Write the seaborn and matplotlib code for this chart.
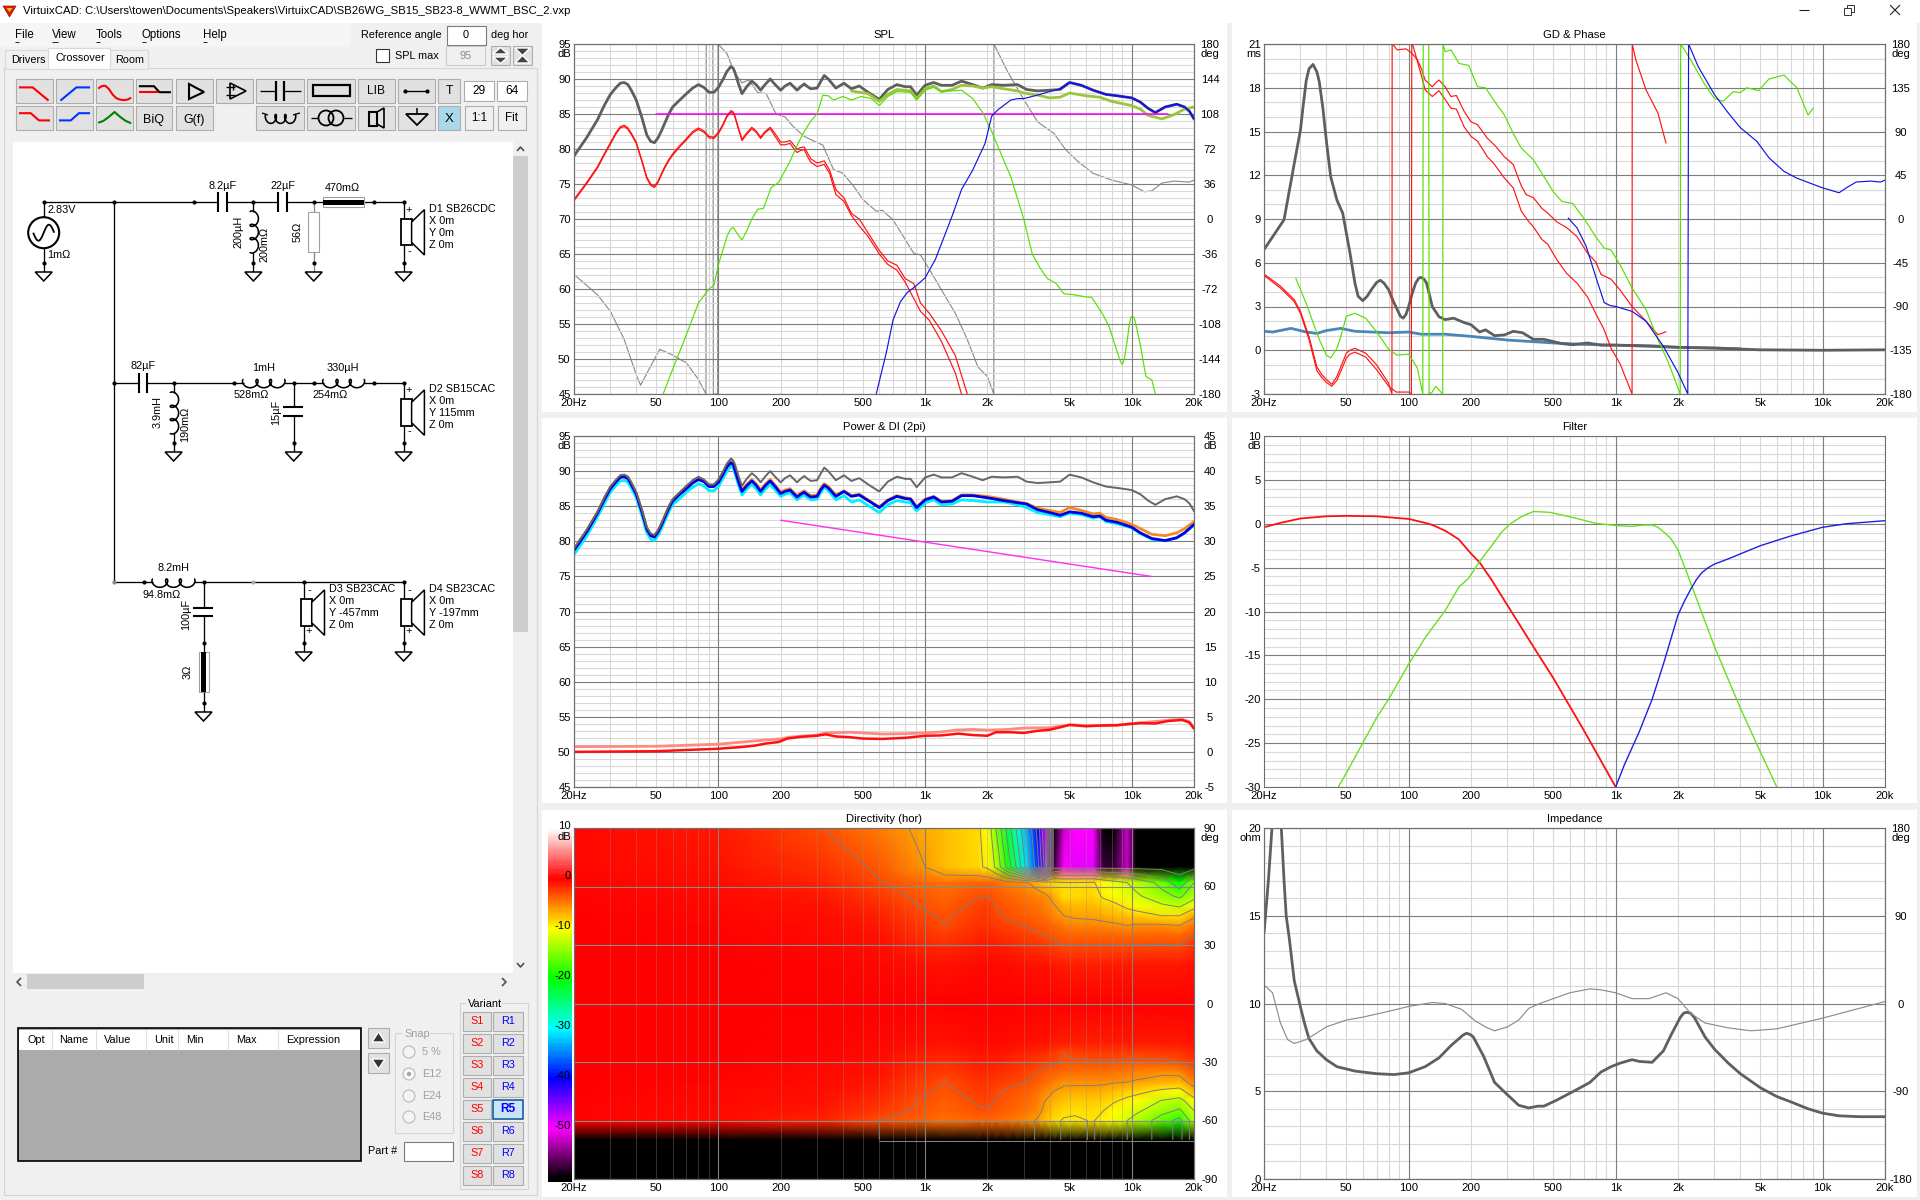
import numpy as np
import matplotlib
matplotlib.use('Agg')
import matplotlib.pyplot as plt
import seaborn as sns
from matplotlib.colors import LinearSegmentedColormap
from matplotlib.patches import Rectangle, Polygon, Circle
from matplotlib.ticker import MultipleLocator, NullFormatter

# ---------- chart values (frequency Hz, value) ----------
TOTAL = [(20,79),(23,81.6),(26,84.2),(28,86.2),(30,87.8),(32,88.8),(33.5,89.4),(35,89.5),(36.5,89.2),(38,88.3),(40,87),(42.5,84.6),(45,82),(47,81.1),(49,80.9),(51,81.6),(53,82.6),(55,83.7),(57.5,85),(60,86),(65,87),(70,87.9),(75,88.7),(80,89.2),(85,88.8),(90,88.1),(95,88.1),(100,88.8),(105,89.9),(110,91.1),(115,91.8),(118,91.5),(120,91),(125,89.3),(130,87.9),(137,88.9),(145,89.7),(152,89.2),(160,88.4),(168,89.2),(178,90),(188,89.2),(200,88.4),(210,89),(222,89.4),(231,88.9),(240,88.4),(250,88.9),(260,89.3),(270,88.9),(280,88.6),(300,88.7),(312,89.6),(325,90.5),(340,90),(370,88.7),(405,89.4),(440,88.6),(480,89),(530,88.1),(600,87.1),(660,88.5),(730,89.2),(800,88.9),(850,88.9),(910,87.7),(1000,89.1),(1100,89.5),(1200,89.1),(1350,89.1),(1500,89.7),(1700,89.2),(1900,88.7),(2100,89.2),(2400,89.1),(2800,89.2),(3100,88.5),(3500,88.3),(4000,88.4),(4500,88.5),(5000,89.5),(5700,89.1),(6500,88.4),(7500,87.8),(8500,87.6),(10000,87.3),(11000,86.7),(12000,85.8),(13000,85.2),(14500,86),(16500,86.4),(18000,86),(19000,85.4),(20000,84.3)]
SUM_THICK = [(440,88.3),(530,87.9),(600,86.8),(660,87.8),(730,88.5),(850,88.3),(910,87.2),(1000,88.6),(1100,89),(1200,88.2),(1350,88.5),(1500,89.1),(1700,89),(1900,88.7),(2100,88.9),(2400,88.6),(2800,88.3),(3000,88),(3500,87.7),(4000,87.3),(4500,87.4),(5000,88),(6000,87.6),(7000,87.4),(8000,86.8),(10000,86.2),(11000,85.7),(12000,84.8),(14000,84.3),(16000,84.9),(18000,85.7),(20000,86)]
WOOFER_A = [(20,72.8),(23,75.2),(26,77.5),(28,79.3),(30,80.9),(32,82.4),(33.5,83.2),(35,83.4),(36.5,83),(38,82.2),(40,81),(42.5,78.5),(45,76),(47,75),(49,74.7),(51,75.4),(53,76.5),(55,77.5),(57.5,78.5),(60,79.3),(65,80.5),(70,81.5),(75,82.5),(80,83),(85,82.6),(90,81.8),(95,81.7),(100,82.4),(105,83.5),(110,84.8),(115,85.5),(118,85.3),(120,84.8),(125,83),(130,81.4),(137,82.3),(145,83.1),(152,82.6),(160,81.7),(168,82.5),(178,83.1),(188,82.2),(200,81),(210,81),(222,81.2),(231,80.6),(240,80),(250,80.2),(260,80.3),(270,79.4),(280,78.6),(300,78),(325,78.3),(345,77),(370,74.2),(405,73),(440,70.8),(480,70),(530,68),(600,65.5),(660,64),(730,63.4),(800,61.5),(880,60.8),(950,58),(1050,56.5),(1200,54),(1400,50.5),(1600,45)]
WOOFER_B = [(20,72.6),(23,75),(26,77.3),(28,79.1),(30,80.7),(32,82.2),(33.5,83),(35,83.2),(36.5,82.8),(38,82),(40,80.8),(42.5,78.3),(45,75.8),(47,74.8),(49,74.5),(51,75.2),(53,76.3),(55,77.3),(57.5,78.3),(60,79.1),(65,80.3),(70,81.3),(75,82.3),(80,82.8),(85,82.4),(90,81.6),(95,81.5),(100,82.2),(105,83.3),(110,84.6),(115,85.3),(118,85.1),(120,84.6),(125,82.8),(130,81.2),(137,82.1),(145,82.9),(152,82.4),(160,81.5),(168,82.3),(178,82.9),(188,81.8),(200,80.6),(210,80.6),(222,80.8),(231,80.1),(240,79.5),(250,79.8),(260,79.9),(270,78.9),(280,78.1),(300,77.5),(325,77.8),(345,76.5),(370,73.5),(405,72.5),(440,70.5),(480,69),(530,67.5),(600,65),(660,63.5),(730,62.7),(800,61),(950,56.8),(1050,55.5),(1200,52.5),(1400,48),(1500,45)]
MID = [(54,45),(60,48.5),(70,53.5),(80,58),(90,60),(95,60.5),(100,63.5),(110,67.5),(114,68.5),(118,68.8),(124,67.8),(130,67),(137,68.3),(145,70),(155,71.4),(165,71.5),(180,74.5),(195,75.2),(220,78),(240,80.5),(260,82.5),(280,84),(300,85),(320,87.7),(340,87.6),(360,87),(400,87.5),(440,87),(490,87.5),(550,87.2),(600,86.2),(660,87.5),(730,88.2),(850,88.1),(910,87),(1000,88.4),(1100,88.8),(1200,88.2),(1350,88.3),(1500,88.4),(1700,87.2),(1900,85.2),(2100,82.5),(2300,79.7),(2600,76),(3000,70),(3300,65),(3600,63),(3900,61.5),(4300,60.8),(4700,59.3),(5200,59.2),(5900,58.9),(6400,58.8),(7200,56.5),(7800,54.5),(8500,51),(8800,49.7),(9000,49.2),(9200,50),(9500,52.5),(9700,54.7),(9900,56),(10100,56.1),(10300,55.8),(10600,54.2),(11000,52),(11700,47.5),(12500,47),(13000,45)]
TWEETER = [(580,45),(650,51),(700,55.6),(760,58.2),(820,59.5),(900,60.4),(1000,61.6),(1120,64.2),(1350,70.4),(1500,74.2),(1700,77),(1950,80.8),(2100,84.7),(2250,85.6),(2600,87),(2800,87.2),(3000,87.2),(3500,87.7),(4000,88.2),(4500,88.6),(5000,89.5)]
TWEETER_HF = [(4500,88.6),(5000,89.5),(5700,89.1),(6500,88.4),(7500,87.8),(8500,87.6),(10000,87.3),(11000,86.7),(12000,85.8),(13000,85.2),(14500,86),(16500,86.4),(18000,86),(19000,85.4),(20000,84.3)]
TARGET_FLAT = [(50,85),(15000,85)]
SPL_PHASE = [(20,-57),(26,-78),(30,-95),(35,-124),(40,-160),(42,-171),(46,-155),(52,-134),(60,-140),(70,-148),(80,-165),(87,-180),(87.3,180),(94,180),(94.5,-180),(99,-180),(99.5,180),(110,170),(120,150),(130,140),(140,143),(155,130),(170,129),(190,108),(210,105),(230,95),(260,85),(290,80),(320,76),(360,51),(400,47),(450,34),(500,20),(580,8),(620,9),(700,-1),(800,-21),(880,-35),(950,-37),(1050,-52),(1200,-73),(1400,-97),(1600,-124),(1800,-152),(2000,-162),(2150,-180),(2152,180),(2500,152),(3000,123),(3500,100),(4200,88),(4800,71),(5500,59),(6500,47),(8000,40),(10000,35),(11500,28),(12500,29),(14000,37),(16000,39),(19000,38),(20000,40)]

GD_TOTAL = [(20,6.9),(25,8.95),(28,12.8),(30,15.1),(31,16.9),(32,18.5),(33,19.3),(34.5,19.6),(36,19.1),(37,18.4),(38.5,16.6),(40,14.4),(42,11.9),(45,10.3),(48,9.4),(52,6.7),(55,4.6),(57,3.7),(60,3.4),(63,3.7),(66,4.15),(70,4.65),(73,4.8),(76,4.6),(80,4.15),(84,3.4),(88,2.8),(91,2.35),(94,2.2),(97,2.45),(100,3),(104,3.9),(108,4.6),(112,4.95),(115,5),(119,4.85),(122,4.6),(126,3.8),(130,3),(140,2.3),(150,2.1),(165,2.2),(185,1.9),(200,1.75),(220,1.25),(235,1.4),(260,1),(290,1.05),(320,1.3),(355,1.2),(400,0.75),(450,0.75),(550,0.45),(620,0.38),(730,0.5),(850,0.35),(1000,0.35),(1200,0.33),(1500,0.3),(2000,0.2),(3000,0.15),(5000,0.03),(10000,0),(20000,0.03)]
GD_STEEL = [(20,1.3),(22,1.25),(27,1.5),(32,1.25),(36,1.15),(40,1.35),(47,1.5),(55,1.3),(80,1.2),(100,1.25),(115,1.1),(150,1.1),(200,0.95),(300,0.7),(500,0.5),(700,0.4),(1000,0.35),(2000,0.2),(3000,0.15),(4000,0.1)]
PH_RED_A = [(20,-56.6),(24,-69),(28,-83),(30,-95),(33,-121),(36,-152),(38,-160),(40,-165),(42.5,-170),(45,-162),(50,-138),(52,-135),(55,-133),(62,-138),(70,-150),(80,-169),(83,-180),(83.2,180),(85,178),(88,174),(97,175),(103,171),(110,164),(115,155),(120,143),(130,136),(135,140),(140,143),(150,136),(160,126),(170,127),(185,111),(200,100),(215,97),(240,83),(260,76),(290,64),(320,56),(350,34),(370,25),(400,22),(440,11),(470,6),(520,-3),(580,-9),(650,-18),(730,-35),(800,-44),(850,-57),(950,-62),(1050,-73),(1200,-90),(1400,-105),(1600,-119),(1750,-116)]
PH_RED_B = [(20,-58),(24,-71),(28,-85),(30,-97),(33,-124),(36,-156),(38,-163),(40,-168),(42.5,-172),(45,-166),(50,-143),(52,-139),(55,-137),(62,-142),(70,-155),(80,-172),(87,-178),(100,-178),(103,-180),(103.5,180),(105,178),(115,148),(120,133),(130,126),(135,129),(140,132),(150,123),(160,114),(170,113),(185,95),(200,85),(215,80),(240,64),(260,56),(290,42),(320,32),(350,8),(375,-1),(400,-8),(440,-21),(470,-26),(520,-42),(580,-56),(650,-66),(730,-80),(800,-97),(880,-114),(950,-133),(1050,-149),(1200,-180),(1202,180),(1250,164),(1400,133),(1600,109),(1750,78)]
PH_GREEN = [(28.5,-61),(32,-87),(35,-110),(37,-124),(40,-140),(42,-143),(45,-133),(47,-121),(50,-100),(55,-97),(62,-102),(70,-116),(80,-134),(88,-140),(100,-139),(110,-153),(117,-180),(117.5,180),(125,180),(125.5,-180),(130,-178),(135,-172),(146,-180),(146.5,180),(150,172),(160,174),(175,160),(195,158),(215,136),(235,135),(260,121),(290,107),(320,88),(350,73),(400,61),(440,47),(500,28),(550,18),(620,16),(700,1),(800,-18),(880,-30),(950,-32),(1050,-47),(1200,-71),(1400,-93),(1600,-124),(1800,-148),(2050,-180),(2060,180),(2300,164),(2700,138),(3000,124),(3300,121),(3700,131),(4000,130),(4300,135),(4900,132),(5500,144),(6500,148),(7500,135),(8500,107),(9000,114)]
PH_BLUE = [(590,1),(650,-9),(720,-28),(800,-59),(880,-86),(940,-89),(1000,-90),(1200,-95),(1400,-105),(1700,-131),(2000,-158),(2230,-180),(2250,180),(2500,157),(3000,128),(3500,109),(4000,94),(4800,80),(5500,63),(6500,49),(7500,42),(10000,32),(12000,27),(13000,32),(14500,38),(17000,39),(19000,38),(20000,40)]

F_POWER = [20,23,26,28,30,32,33.5,35,36.5,38,40,42.5,45,47,49,51,53,55,57.5,60,65,70,75,80,85,90,95,100,105,110,115,118,120,125,130,137,145,152,160,168,178,188,200,210,222,231,240,250,260,270,280,300,312,325,340,370,405,440,480,530,600,660,730,800,850,910,1000,1100,1200,1350,1500,1700,2000,2400,2800,3100,3500,4000,4500,5000,5700,6500,7000,7500,8500,10000,11000,12500,14500,16500,18000,20000]
LISTENING = [78.7,81.3,84,85.9,87.5,88.5,89.1,89.2,88.9,88,86.7,84.3,81.7,80.8,80.6,81.3,82.3,83.4,84.7,85.7,86.7,87.5,88.3,88.8,88.5,87.8,87.8,88.4,89.5,90.6,91.2,90.9,90.2,88.5,87.1,87.9,88.6,88,87.1,87.9,88.6,87.8,86.8,87.1,87.3,86.8,86.3,86.7,87,86.6,86.3,86.4,87.3,88,87.6,86.4,87.1,86.4,86.6,85.8,84.8,85.8,86.4,86.1,86,84.8,85.9,86.3,85.6,85.7,86.5,86.5,86.2,85.8,85.5,85.3,84.5,84.1,83.7,84.2,84,83.5,83.6,83,82.7,82,81.2,80.4,80.1,80.5,81.2,82.4]
POWER_ORANGE = [78.9,81.5,84.2,86.1,87.7,88.7,89.3,89.4,89.1,88.2,86.9,84.5,81.9,81,80.8,81.5,82.5,83.6,84.9,85.9,86.9,87.7,88.5,89,88.7,88,88,88.6,89.7,90.8,91.4,91.1,90.4,88.7,87.3,88.1,88.8,88.2,87.3,88.1,88.8,88,87,87.3,87.5,87,86.5,86.9,87.2,86.8,86.5,86.6,87.5,88.2,87.8,86.6,87.2,86.5,86.7,85.9,84.9,85.9,86.5,86.2,86.1,84.9,86,86.4,85.7,85.8,86.6,86.6,86.4,86,85.6,85.4,84.7,84.4,84.1,84.8,84.4,83.9,84,83.4,83.1,82.4,81.8,81,80.8,81.2,81.8,82.8]
POWER_CYAN = [78.1,80.7,83.5,85.3,87,88,88.6,88.7,88.4,87.5,86.2,83.8,81.2,80.3,80.1,80.8,81.8,82.9,84.2,85.2,86.1,87,87.7,88.2,87.9,87.2,87.2,87.8,88.9,90,90.7,90.4,89.7,88,86.6,87.4,88.1,87.5,86.6,87.4,88.1,87.3,86.4,86.7,86.9,86.4,85.9,86.3,86.6,86.2,85.9,86,86.9,87.7,87.2,85.9,86.5,85.6,85.9,85.1,84.1,85.2,85.8,85.6,85.5,84.3,85.5,85.9,85.2,85.3,85.9,85.8,85.6,85.6,85.2,84.8,84.1,83.8,83.5,84,83.8,83.3,83.5,82.8,82.5,81.9,81.1,80.3,80.1,80.5,81.2,82.3]
DI_MAIN = [(20,0),(50,0.1),(100,0.45),(130,0.7),(150,0.9),(170,1.2),(195,1.4),(215,1.9),(250,2.15),(300,2.3),(330,2.5),(370,2.2),(430,2.1),(500,1.9),(620,1.85),(800,2),(1000,2.3),(1200,2.35),(1450,2.6),(1700,2.4),(2000,2.3),(2200,2.8),(2600,2.8),(3000,2.7),(3500,3),(4000,3.15),(4500,3.5),(5000,3.85),(6000,3.65),(7000,3.75),(8500,3.8),(9500,3.95),(11000,4.1),(13000,4.05),(15000,4.4),(17500,4.55),(19000,4.2),(20000,3.3)]
DI_LIGHT = [(20,0.75),(50,0.8),(100,1.1),(130,1.4),(170,1.7),(200,1.85),(220,2.1),(300,2.4),(330,2.7),(430,2.8),(620,2.55),(800,2.6),(1000,2.7),(1200,2.85),(1400,3.1),(1700,3.2),(2000,3.1),(2500,3.2),(3000,3.4),(4000,3.45),(5000,3.85),(6000,3.75),(8500,3.8),(11000,4.15),(15000,4.5),(17500,4.65),(19000,4.3),(20000,3.4)]
TARGET_SLOPE = [(200,83),(12400,75)]

FILTER_LOW = [(20,-0.4),(24,0.1),(30,0.6),(40,0.85),(50,0.9),(70,0.85),(100,0.55),(125,0),(135,-0.3),(150,-0.8),(160,-1.2),(175,-1.8),(187,-2.6),(200,-3.4),(220,-4.4),(250,-6.3),(300,-9.3),(400,-14),(500,-17.6),(700,-23.5),(1000,-30)]
FILTER_MID = [(45.7,-30),(50,-28.4),(60,-25),(70,-22.1),(80,-20),(100,-16),(120,-13),(150,-9.9),(175,-7.2),(195,-6.2),(220,-4.3),(250,-2.6),(280,-1),(310,0),(350,0.8),(400,1.4),(480,1.3),(600,0.8),(700,0.4),(800,0.05),(1000,-0.2),(1200,-0.3),(1350,-0.15),(1500,-0.15),(1600,-0.4),(1700,-0.9),(1850,-1.7),(2000,-3),(2200,-5.5),(2500,-9),(3000,-14),(4000,-21),(5000,-26),(6000,-30)]
FILTER_HIGH = [(1000,-30),(1100,-27.5),(1300,-23.7),(1500,-20),(1700,-16),(2000,-10.4),(2150,-8.8),(2300,-7.5),(2450,-6.4),(2600,-5.6),(2800,-5),(3000,-4.6),(3500,-4),(5000,-2.5),(7000,-1.4),(10000,-0.4),(13000,0),(20000,0.35)]

IMP_MAG = [(20,14),(21,17),(22,20.5),(23,24),(24,21),(25,17),(25.6,15),(26.5,13.7),(27.3,12.4),(28,11.3),(30,9.8),(31.5,8.8),(33,8),(36,7.3),(40,6.8),(45,6.4),(55,6.15),(70,6),(85,5.95),(100,6.05),(120,6.4),(140,6.9),(160,7.6),(175,8),(183,8.2),(190,8.3),(197,8.25),(205,8.1),(230,7),(260,5.5),(300,4.8),(340,4.2),(380,4.05),(420,4.15),(450,4.15),(520,4.5),(650,5.1),(750,5.5),(850,6.1),(950,6.4),(1050,6.6),(1200,6.8),(1300,6.7),(1500,6.65),(1700,7.3),(1850,8.2),(2050,9.2),(2130,9.45),(2200,9.5),(2300,9.45),(2400,9.2),(2700,8.1),(3000,7.4),(3500,6.6),(4000,6),(5000,5.2),(6000,4.7),(7000,4.4),(8500,4),(10000,3.75),(12000,3.6),(15000,3.55),(20000,3.55)]
IMP_PHASE = [(20,19),(22,11),(24,-20),(26,-37),(28,-41),(32,-37),(40,-24),(50,-17),(60,-14),(80,-8),(100,-3),(130,1),(150,0),(180,-6),(210,-18),(240,-25),(260,-28),(300,-24),(340,-17),(380,-5),(430,0),(500,5),(600,11),(750,15),(850,14),(1000,11),(1200,5),(1450,5),(1750,11),(2000,5),(2300,-10),(2700,-20),(3500,-25),(4500,-28),(6000,-26),(10000,-15),(15000,-5),(20000,2)]

DIR_FREQS = [20,100,320,600,930,1250,1800,2000,2200,2500,2800,3100,3500,3800,4200,4700,5300,6500,7300,8200,9500,10500,14000,17000,20000]
DIR_ANGLES = [90,70,62,55,50,45,40,35,30,20,0,-20,-25,-30,-35,-40,-45,-50,-55,-60,-70,-90]
D_P90 = [-0.3,-1,-3,-4.8,-6.5,-7.5,-8.7,-10,-15,-22,-28,-33,-40,-48,-60,-52,-50,-50,-60,-60,-52,-60,-60,-60,-60]
D_P70 = [-0.3,-0.8,-2,-3.4,-5.6,-7.5,-8.5,-9.5,-12.5,-19,-25,-31,-38,-46,-58,-50,-49,-49,-58,-58,-52,-60,-60,-60,-60]
D_P62 = [-0.2,-0.5,-1.4,-2.9,-4,-4.6,-4,-4,-4.2,-5,-5.4,-5.8,-7,-8,-8.5,-9,-9,-8.8,-10,-11,-12,-13,-16,-20,-15]
D_P55 = [-0.2,-0.4,-1,-2.2,-3.4,-4,-3.1,-3,-3.5,-4,-4.3,-4.7,-5.2,-5.5,-6.8,-8.8,-8.5,-8.2,-9.3,-10,-11,-11.5,-14,-15.5,-13]
D_P50 = [-0.2,-0.3,-0.8,-1.7,-3,-3.6,-2.6,-2.4,-3,-3.5,-3.8,-4.2,-4.6,-5,-5.8,-7,-7.3,-7.3,-8,-8.4,-9.5,-10,-11.5,-12.3,-10]
D_P45 = [-0.1,-0.3,-0.6,-1.3,-2.7,-3.2,-2.2,-2.1,-2.8,-3.2,-3.4,-3.7,-4,-4.4,-5.4,-6,-6.3,-6.5,-6.8,-7.1,-7.6,-8,-9,-9,-6.5]
D_P40 = [-0.1,-0.2,-0.5,-1,-2.3,-3,-2,-1.9,-2.2,-2.6,-2.9,-3.1,-3.5,-3.7,-4.2,-4.8,-5.2,-5.2,-5.4,-5.6,-6,-5.7,-5.6,-6,-4.5]
D_P35 = [-0.1,-0.2,-0.4,-0.8,-1.8,-2.4,-1.6,-1.4,-1.7,-2,-2.3,-2.5,-2.8,-3,-3.4,-3.7,-3.9,-3.9,-4,-4,-4.1,-4,-4,-4.1,-3]
D_P30 = [0,-0.1,-0.3,-0.6,-1.4,-1.8,-1.2,-1,-1.2,-1.4,-1.7,-1.9,-2.1,-2.3,-2.7,-3,-3,-3,-3,-3,-3,-3,-2.9,-3,-2]
D_P20 = [0,-0.1,-0.2,-0.3,-0.6,-0.8,-0.5,-0.4,-0.5,-0.5,-0.6,-0.7,-0.8,-0.8,-1,-1.2,-1.1,-1.1,-1.1,-1,-1,-1,-1,-1,-0.8]
D_ZERO = [0,0,0,0,0,0,0,0,0,0,0,0,0,0,0,0,0,0,0,0,0,0,0,0,0]
D_N20 = [0,-0.1,-0.2,-0.3,-0.6,-0.8,-0.5,-0.4,-0.5,-0.5,-0.6,-0.7,-0.8,-0.8,-1,-1.2,-1.1,-1.1,-1.1,-1,-1,-1,-1,-1,-0.8]
D_N25 = [0,-0.1,-0.2,-0.4,-1,-1.3,-0.8,-0.7,-0.8,-0.9,-1.1,-1.3,-1.5,-1.7,-2.2,-2.9,-2.5,-2.3,-2.2,-2.2,-2.3,-2.4,-2.3,-2.1,-1.4]
D_N30 = [0,-0.1,-0.3,-0.6,-1.4,-1.8,-1.2,-1.1,-1.2,-1.5,-1.8,-2,-2.3,-2.5,-2.8,-3.3,-3.2,-3.2,-3.2,-3.2,-3.3,-3.4,-3.3,-3,-2.2]
D_N35 = [-0.1,-0.2,-0.4,-0.8,-1.8,-2.4,-1.6,-1.5,-1.7,-2,-2.3,-2.6,-3,-3.4,-3.8,-4.3,-4.3,-4.3,-4.3,-4.5,-4.7,-5,-5.5,-5.3,-3.4]
D_N40 = [-0.1,-0.2,-0.5,-1,-2.3,-3,-2,-1.9,-2.2,-2.5,-2.8,-3,-3.6,-4.2,-4.9,-5.5,-5.5,-5.5,-5.5,-5.7,-5.9,-6.2,-6.8,-7,-4.8]
D_N45 = [-0.1,-0.3,-0.6,-1.3,-2.7,-3.3,-2.4,-2.2,-2.8,-3.2,-3.4,-3.7,-4.4,-5.2,-6,-6.6,-6.7,-6.7,-7,-7.5,-8,-8.4,-9.5,-10,-7]
D_N50 = [-0.2,-0.3,-0.8,-1.8,-3.1,-3.7,-2.8,-2.6,-3.1,-3.6,-3.9,-4.2,-5,-6,-7,-7.7,-8,-8,-8.2,-8.8,-9.6,-10,-12.2,-13,-10]
D_N55 = [-0.2,-0.4,-1,-2.2,-3.3,-3.9,-3.2,-3.1,-3.4,-3.8,-4.2,-4.6,-5.4,-6.5,-7.8,-8.5,-8.8,-8.7,-9,-10,-11,-11.5,-14,-15.5,-12]
D_N60 = [-0.2,-0.5,-1.4,-3,-3.8,-4.4,-4,-4,-4.2,-4.5,-5,-5.5,-6.2,-7.5,-8.6,-9.2,-9.2,-8.9,-9.6,-10.5,-12,-13,-16.5,-19,-13]
DIR_TABLE = [D_P90,D_P70,D_P62,D_P55,D_P50,D_P45,D_P40,D_P35,D_P30,D_P20,D_ZERO,D_N20,D_N25,D_N30,D_N35,D_N40,D_N45,D_N50,D_N55,D_N60]
DIR_FLOOR = -60.0
CONTOUR_FLOOR_HF = -22.0
DIR_EDGE = [(600,-70.4),(20000,-70.4)]

X_TICKS = [20,50,100,200,500,1000,2000,5000,10000,20000]
X_LABELS = ['20Hz','50','100','200','500','1k','2k','5k','10k','20k']
X_DECADES = [100,1000,10000]
X_MINOR = [30,40,60,70,80,90,300,400,600,700,800,900,3000,4000,6000,7000,8000,9000]
CBAR_LABELS = [10,0,-10,-20,-30,-40,-50,-60]

# ---------- figure ----------
W, H = 1920, 1200
sns.set_theme(style='white')
plt.rcParams['font.family'] = ['Liberation Sans', 'DejaVu Sans']
FS = 8.1
UF = 7.8
fig = plt.figure(figsize=(19.2, 12), dpi=100, facecolor='#f0f0f0')

ui = fig.add_axes([0, 0, 1, 1], zorder=0)
ui.set_xlim(0, W); ui.set_ylim(H, 0); ui.axis('off')
top = fig.add_axes([0, 0, 1, 1], zorder=20)
top.set_xlim(0, W); top.set_ylim(H, 0); top.axis('off'); top.patch.set_visible(False)

def R(x0, y0, x1, y1, fc='none', ec='none', lw=.8, z=1, a=ui):
    a.add_patch(Rectangle((x0, y0), x1-x0, y1-y0, facecolor=fc, edgecolor=ec, linewidth=lw, zorder=z))
def L(xs, ys, c='black', lw=.95, z=3, a=ui):
    a.plot(xs, ys, color=c, lw=lw, zorder=z, solid_capstyle='butt', scalex=False, scaley=False)
def T(x, y, s, size=UF, c='black', ha='left', va='center', rot=0, weight='normal', a=ui, z=5):
    a.text(x, y, s, fontsize=size, color=c, ha=ha, va=va, rotation=rot, fontweight=weight, zorder=z, rotation_mode='anchor' if rot else 'default')
def DOT(x, y, c='black'):
    ui.plot([x], [y], 'o', color=c, ms=3, zorder=4, mew=0)

# ---------- window chrome ----------
R(0, 0, W, 23, fc='white')
ui.add_patch(Polygon([[3,6],[16,6],[9.5,17]], closed=True, fc='#d81e05', ec='#a01000', lw=.5, zorder=3))
ui.add_patch(Polygon([[6.5,8],[12.5,8],[9.5,12]], closed=True, fc='#f4c020', ec='none', zorder=4))
T(23, 11.5, 'VirtuixCAD: C:\\Users\\towen\\Documents\\Speakers\\VirtuixCAD\\SB26WG_SB15_SB23-8_WWMT_BSC_2.vxp', size=8.2)
L([1799,1809],[10,10],c='#222222',lw=.8)
R(1847,5,1854,12,ec='#333333',lw=.7,fc='white',z=3); R(1844,8,1851,15,ec='#333333',lw=.7,fc='white',z=4)
L([1890,1900],[5,15],c='#222222',lw=.8); L([1890,1900],[15,5],c='#222222',lw=.8)

R(0, 23, 351, 47, fc='#f5f5f5')
for x, s in zip([15,52,96,142,203], ['File','View','Tools','Options','Help']):
    T(x, 35, s, size=8.3)
    L([x, x+(4 if s!='View' else 6)], [41.5,41.5], lw=.6)
T(361, 35, 'Reference angle')
R(447, 26, 486, 45, fc='white', ec='#7a7a7a')
T(466, 35, '0', ha='center')
T(491, 35, 'deg hor')
R(376, 49, 389, 62, fc='white', ec='#333333')
T(395, 56, 'SPL max')
R(446, 46, 485, 65, fc='#f0f0f0', ec='#cccccc')
T(466, 56, '95', ha='center', c='#8c8c8c')
R(491, 46, 510, 65, fc='#e1e1e1', ec='#adadad'); R(513, 46, 532, 65, fc='#e1e1e1', ec='#adadad')
ui.add_patch(Polygon([[493,54],[508,54],[500.5,47.5]], fc='#444444', zorder=3)); ui.add_patch(Polygon([[493,57],[508,57],[500.5,63.5]], fc='#444444', zorder=3))
ui.add_patch(Polygon([[515,48],[530,48],[522.5,55.5]], fc='#444444', zorder=3)); ui.add_patch(Polygon([[515,63],[530,63],[522.5,55.5]], fc='#444444', zorder=3))

R(4, 68, 537, 1195, fc='#f0f0f0', ec='#d4d4d4')
R(5, 50, 48, 69, fc='#f0f0f0', ec='#d9d9d9'); T(11, 60, 'Drivers')
R(110, 50, 148, 69, fc='#f0f0f0', ec='#d9d9d9'); T(115, 60, 'Room')
R(48, 48, 110, 69, fc='white', ec='#d9d9d9', z=2); T(56, 58, 'Crossover', z=6)

# toolbar
ROW1 = [(16,53),(56,93),(96,133),(136,172),(176,213),(216,253),(256,304),(307,355),(358,395),(398,435),(438,460),(464,494),(497,527)]
ROW2 = [(16,53),(56,93),(96,133),(136,172),(176,213),(256,304),(307,355),(358,395),(398,435),(438,460),(465,493),(498,526)]
for i,(a,b) in enumerate(ROW1):
    white = i >= 11
    R(a, 79 if not white else 81, b, 103 if not white else 101, fc='white' if white else '#e1e1e1', ec='#adadad')
for i,(a,b) in enumerate(ROW2):
    if i == 9: fc, ec = '#a8d8ea', '#adadad'
    elif i >= 10: fc, ec = '#f0f0f0', '#adadad'
    else: fc, ec = '#e1e1e1', '#adadad'
    R(a, 106, b, 130, fc=fc, ec=ec)
def ICON(box, y0, pts, c, lw=1.5):
    a, b = box
    L([a+(b-a)*p[0] for p in pts], [y0+24*p[1] for p in pts], c=c, lw=lw)
ICON(ROW1[0],79,[(.08,.35),(.45,.35),(.88,.9)],'#ff0000')
ICON(ROW1[1],79,[(.12,.9),(.55,.35),(.92,.35)],'#0033ff')
sx = [.06,.15,.25,.35,.45,.55,.65,.75,.85,.95]; sy=[.4,.3,.28,.42,.65,.8,.86,.88,.86,.78]
ICON(ROW1[2],79,list(zip(sx,sy)),'#ff0000')
ICON(ROW1[3],79,[(.08,.3),(.5,.3),(.65,.55),(.97,.55)],'black')
ICON(ROW1[3],79,[(.08,.55),(.62,.55)],'#ff0000')
ICON(ROW2[0],106,[(.08,.3),(.4,.3),(.62,.6),(.92,.6)],'#ff0000')
ICON(ROW2[1],106,[(.08,.6),(.4,.6),(.62,.3),(.92,.3)],'#0033ff')
ICON(ROW2[2],106,[(.06,.7),(.2,.62),(.35,.45),(.5,.25),(.65,.45),(.8,.62),(.95,.72)],'#008000')
ui.add_patch(Polygon([[189,84],[189,99],[204,92]], fc='none', ec='black', lw=1.5, zorder=3))
ui.add_patch(Polygon([[230,83],[230,99],[246,91]], fc='none', ec='black', lw=1.2, zorder=3))
L([226,235],[87,87]); L([226,235],[95,95]); L([233,233],[84,90])
L([260,276],[91,91]); L([284,301],[91,91]); L([276,276],[81,101],lw=1.6); L([284,284],[81,101],lw=1.6)
R(313,85,350,96,ec='black',lw=1.6,z=3)
T(376,91,'LIB',ha='center',size=8.6); L([405,427],[91,91]); DOT(405,91); DOT(427,91)
T(449,91,'T',ha='center',size=8.8); T(479,91,'29',ha='center',size=8.6); T(512,91,'64',ha='center',size=8.6)
T(154,120,'BiQ',ha='center',size=9); T(194,120,'G(f)',ha='center',size=9)
T(449,119,'X',ha='center',size=9.5); T(479,118,'1:1',ha='center',size=8.4); T(512,118,'Fit',ha='center',size=8.4)

def COIL_H(x0, x1, y, r=4.2, lw=1.15):
    t = np.linspace(0, 1, 160)
    xs = x0 + (x1-x0)*t - (x1-x0)/9*np.sin(2*np.pi*3*t)*.85
    ys = y + r*.2 + r*np.cos(np.pi*2*3*t+np.pi)
    L(xs, ys, lw=lw)
def COIL_V(x, y0, y1, r=4.2, lw=1.15):
    t = np.linspace(0, 1, 160)
    ys = y0 + (y1-y0)*t - (y1-y0)/9*np.sin(2*np.pi*3*t)*.85
    xs = x + r*.2 + r*np.cos(np.pi*2*3*t+np.pi)
    L(xs, ys, lw=lw)
def GND(x, y):
    ui.add_patch(Polygon([[x-8.5,y],[x+8.5,y],[x,y+9]], fc='white', ec='black', lw=1.1, zorder=3))
def CAP_H(x0, x1, y, h=10):
    L([x0,x0],[y-h,y+h],lw=1.5); L([x1,x1],[y-h,y+h],lw=1.5)

COIL_H(266, 295, 118, r=4.5)
L([262,268],[113,115]);L([293,300],[115,113])
ui.add_patch(Circle((326,118),7.5,fc='none',ec='black',lw=1.3,zorder=3)); ui.add_patch(Circle((336,118),7.5,fc='none',ec='black',lw=1.3,zorder=3)); L([311,318],[118,118]); L([344,352],[118,118])
R(369,112,377,126,ec='black',lw=1.5,z=3); ui.add_patch(Polygon([[377,112],[384,108],[384,128],[377,124]],fc='none',ec='black',lw=1.2,zorder=3))
ui.add_patch(Polygon([[406,114],[428,114],[417,125]],fc='none',ec='black',lw=1.3,zorder=3)); L([417,417],[108,114],lw=1.1)

# canvas
R(13, 142, 513, 973, fc='white')
R(513, 142, 528, 973, fc='#f0f0f0')
R(513, 156, 528, 632, fc='#cdcdcd')
L([517,520.5,524],[151,147,151],c='#505050',lw=1.2); L([517,520.5,524],[963,967,963],c='#505050',lw=1.2)
R(13, 974, 513, 989, fc='#f0f0f0'); R(27, 974, 144, 989, fc='#cdcdcd')
L([21,17,21],[978,982,986],c='#505050',lw=1.2); L([502,506,502],[978,982,986],c='#505050',lw=1.2)

# schematic
Y1, Y2, Y3 = 202, 382.7, 582.3
XM, XD = 113.6, 403.6
L([43.7,218],[Y1,Y1]); L([227,278],[Y1,Y1]); L([287,323],[Y1,Y1]); L([363.6,XD],[Y1,Y1])
L([XM,XM],[Y1,Y3])
for x,y in [(43.7,202),(XM,202),(193.5,202),(253.4,202),(313.7,202),(373.6,202),(XD,202),(43.7,262.7),(253.4,262.7),(313.7,262.7),(XD,262.7),(XM,Y2),(173.6,Y2),(233.5,Y2),(293.7,Y2),(313.7,Y2),(373.6,Y2),(XD,Y2),(143.6,Y3),(203.5,Y3),(303.7,Y3),(XD,Y3),(173.6,442.7),(293.7,442.7),(XD,442.7),(203.5,642.7),(303.7,642.7),(XD,642.7),(203.5,702.7)]:
    DOT(x,y)
DOT(XM,Y3,'#888888'); DOT(253.4,Y3,'#aaaaaa')
ui.add_patch(Circle((43.7,232.7),15.5,fc='white',ec='black',lw=1.5,zorder=3))
tw = np.linspace(-10.5,10.5,60); L(43.7+tw, 232.7-8*np.sin(tw/10.5*np.pi), lw=1.3, z=4)
L([43.7,43.7],[202,217]); L([43.7,43.7],[248,272]); GND(43.7,272)
T(47,210,'2.83V'); T(47,255,'1mΩ')
CAP_H(218,227,Y1); T(223,186,'8.2µF',ha='center')
CAP_H(278,287,Y1); T(283,186,'22µF',ha='center')
L([253.4,253.4],[202,212]); COIL_V(253.4,212,252); L([253.4,253.4],[252,272]); GND(253.4,272)
T(238,232,'200µH',rot=90,ha='center'); T(265,244,'200mΩ',rot=90,ha='center')
R(323,197,363.6,207,fc='white',ec='#a0a0a0',z=3); R(323,199.5,363.6,204.5,fc='black',z=4)
T(342.5,188,'470mΩ',ha='center')
L([313.7,313.7],[202,212],c='#888888'); R(308,212,318.5,252,fc='white',ec='#a0a0a0',z=3); L([313.7,313.7],[252,272],c='#888888'); GND(313.7,272)
T(298,232,'56Ω',rot=90,ha='center')

def SPEAK(x, yb0, sign_top, sign_bot):
    R(x-2.6, yb0, x+8, yb0+26.4, fc='white', ec='black', lw=1.3, z=3)
    ui.add_patch(Polygon([[x+8,yb0+3],[x+20.8,yb0-9.4],[x+20.8,yb0+36],[x+8,yb0+23.4]],fc='white',ec='black',lw=1.1,zorder=3))
    T(x+5.4, yb0-9, sign_top, ha='center', size=8)
    T(x+5.4, yb0+32, sign_bot, ha='center', size=8)
def LABELS(x, y, lines):
    for i, s in enumerate(lines):
        T(x, y+12*i, s)
L([XD,XD],[202,219]); L([XD,XD],[245,272]); SPEAK(XD,219,'+','-'); GND(XD,272)
LABELS(429.4,209,['D1 SB26CDC','X 0m','Y 0m','Z 0m'])

L([XM,139],[Y2,Y2]); L([147,243.5],[Y2,Y2]); L([284,323.7],[Y2,Y2]); L([363.6,XD],[Y2,Y2])
CAP_H(139,147,Y2); T(143,366,'82µF',ha='center')
COIL_H(243.5,284,Y2); T(263.4,368,'1mH',ha='center'); T(251,395,'528mΩ',ha='center')
COIL_H(323.7,363.6,Y2); T(342.6,368,'330µH',ha='center'); T(330.6,395,'254mΩ',ha='center')
L([173.6,173.6],[Y2,393]); COIL_V(173.6,393,433); L([173.6,173.6],[433,452]); GND(173.6,452)
T(157.7,412,'3.9mH',rot=90,ha='center'); T(185,424,'190mΩ',rot=90,ha='center')
L([293.7,293.7],[Y2,407]); L([293.7,293.7],[416,452]); L([283,303],[407,407],lw=1.5); L([283,303],[416,416],lw=1.5); GND(293.7,452)
T(276.5,412,'15µF',rot=90,ha='center')
L([XD,XD],[Y2,399.5]); L([XD,XD],[426,452]); SPEAK(XD,399.3,'+','-'); GND(XD,452)
LABELS(429.4,389,['D2 SB15CAC','X 0m','Y 115mm','Z 0m'])

L([XM,153],[Y3,Y3]); L([194,XD],[Y3,Y3])
COIL_H(153,194,Y3); T(173,568,'8.2mH',ha='center'); T(162,595,'94.8mΩ',ha='center')
L([203.5,203.5],[Y3,607.7]); L([203.5,203.5],[616,652]); L([193,213],[607.7,607.7],lw=1.5); L([193,213],[616,616],lw=1.5)
T(186,614,'100µF',rot=90,ha='center')
R(198.7,652.3,208.7,692,fc='white',ec='#a0a0a0',z=3); R(201.3,652.3,206,692,fc='black',z=4)
L([203.5,203.5],[692,712]); GND(203.5,712); T(187.7,672,'3Ω',rot=90,ha='center')
L([303.7,303.7],[Y3,599]); L([303.7,303.7],[626,652]); SPEAK(303.7,599.3,'-','+'); GND(303.7,652)
LABELS(329.2,589,['D3 SB23CAC','X 0m','Y -457mm','Z 0m'])
L([XD,XD],[Y3,599]); L([XD,XD],[626,652]); SPEAK(XD,599.3,'-','+'); GND(XD,652)
LABELS(429.4,589,['D4 SB23CAC','X 0m','Y -197mm','Z 0m'])

# bottom table
R(18,1028,360.5,1161,fc='#ababab',ec='black',lw=1.2)
R(19,1030,360,1050,fc='white',z=2)
for x,s in zip([27.5,59,104,154,186,236,286],['Opt','Name','Value','Unit','Min','Max','Expression']):
    T(x,1040,s)
for x in [51.6,96.4,146.3,178.4,228.3,278.2]:
    L([x,x],[1030,1050],c='#e0e0e0',lw=.8)
R(368,1028,389,1048,fc='#e1e1e1',ec='#adadad'); R(368,1053,389,1073,fc='#e1e1e1',ec='#adadad')
ui.add_patch(Polygon([[372,1042],[385,1042],[378.5,1032]],fc='#333333',zorder=3)); ui.add_patch(Polygon([[372,1059],[385,1059],[378.5,1069]],fc='#333333',zorder=3))
R(395,1033,452.5,1133,ec='#d4d4d4')
R(402,1028,430,1040,fc='#f0f0f0',z=2); T(404.6,1034,'Snap',c='#a0a0a0')
for y,s,sel in [(1052,'5 %',False),(1074,'E12',True),(1096,'E24',False),(1117,'E48',False)]:
    ui.add_patch(Circle((409,y),6,fc='#f4f4f4',ec='#c0c0c0',lw=.9,zorder=3))
    if sel: ui.add_patch(Circle((409,y),3,fc='#a8a8a8',zorder=4))
    T(422,y,s,c='#a0a0a0')
T(368,1151,'Part #'); R(404,1142,452.5,1161,fc='white',ec='#7a7a7a')
R(460,1003,527.5,1189,ec='#d4d4d4')
R(466,998,502,1010,fc='#f0f0f0',z=2); T(468,1004,'Variant')
for i in range(8):
    y = 1012 + 22*i
    R(463,y,491,y+18.5,fc='#e1e1e1',ec='#adadad')
    T(477,y+9.5,f'S{i+1}',c='#ff0000',ha='center')
    if i == 4:
        R(493,y,523,y+18.5,fc='#cce4f7',ec='#005499',lw=1.1)
        T(508,y+9.5,f'R{i+1}',c='#0000ff',ha='center',weight='bold',size=8.6)
    else:
        R(493,y,523,y+18.5,fc='#e1e1e1',ec='#adadad')
        T(508,y+9.5,f'R{i+1}',c='#0000ff',ha='center')

# ---------- panels ----------
for x0, x1 in [(542,1227),(1232,1917)]:
    for y0, y1 in [(23,412),(418,803),(810,1197)]:
        R(x0,y0,x1,y1,fc='white')

def new_ax(l, t, r, b):
    return fig.add_axes([l/W, 1-b/H, (r-l)/W, (b-t)/H], zorder=5)

def draw(ax, pairs, color, lw):
    fs = [p[0] for p in pairs]; vs = [p[1] for p in pairs]
    sns.lineplot(x=fs, y=vs, ax=ax, color=color, linewidth=lw, estimator=None, sort=False, legend=False, errorbar=None)

MAJ, MIN = '#7d7d7d', '#d8d8d8'
GLW = .8
def style(ax, ymin, ymax, step, title, unit, minor=1, right=None, runit=None):
    ax.set_xscale('log')
    ax.set_xlim(20, 20000); ax.set_ylim(ymin, ymax)
    ax.set_xticks(X_TICKS); ax.set_xticklabels(X_LABELS)
    ax.set_xticks(X_MINOR, minor=True); ax.xaxis.set_minor_formatter(NullFormatter())
    ax.set_yticks(np.arange(ymin, ymax+step/2, step))
    ax.set_yticklabels([str(int(v)) for v in np.arange(ymin, ymax+step/2, step)])
    if minor:
        ax.yaxis.set_minor_locator(MultipleLocator(minor))
        ax.grid(True, which='minor', axis='y', color=MIN, lw=GLW)
    ax.grid(True, which='major', axis='y', color=MAJ, lw=GLW)
    ax.grid(True, which='both', axis='x', color=MIN, lw=GLW)
    ax.set_axisbelow(True)
    for d in X_DECADES:
        ax.axvline(d, color=MAJ, lw=GLW, zorder=1)
    ax.tick_params(which='both', length=0, labelsize=FS, pad=2.4, colors='black')
    ax.tick_params(axis='x', pad=3)
    ax.set_xlabel(''); ax.set_ylabel('')
    for s in ax.spines.values():
        s.set_color('#6e6e6e'); s.set_linewidth(GLW)
    bb = ax.get_position()
    xl, xr = bb.x0*W, bb.x1*W
    yt = (1-bb.y1)*H
    T((xl+xr)/2, yt-9.5, title, ha='center', a=top, size=FS)
    T(xl-3, yt+10, unit, ha='right', a=top, size=FS)
    if right is not None:
        T(xr+16, yt+10, runit, ha='center', a=top, size=FS)

def twin(ax, lo, hi, vals):
    a2 = ax.twinx()
    a2.set_ylim(lo, hi)
    a2.set_yticks(vals); a2.set_yticklabels([str(v) for v in vals])
    a2.tick_params(length=0, labelsize=FS, pad=11.5, colors='black')
    for lb in a2.get_yticklabels(): lb.set_ha('center')
    a2.grid(False); a2.set_ylabel('')
    for s in a2.spines.values():
        s.set_color('#6e6e6e'); s.set_linewidth(GLW)
    return a2

X1L, X1R, X2L, X2R = 574, 1194, 1264, 1885
ROWS = [(44,394),(436,787),(828,1179)]
THIN = .85
THICK = 2.0

# SPL
ax = new_ax(X1L, ROWS[0][0], X1R, ROWS[0][1])
a2 = twin(ax, -180, 180, [180,144,108,72,36,0,-36,-72,-108,-144,-180])
draw(a2, SPL_PHASE, '#8c8c8c', THIN)
a2.set_xlim(20, 20000)
ax.set_zorder(6); a2.set_zorder(5); ax.patch.set_visible(False)
draw(ax, TOTAL, '#5f5f5f', THICK)
draw(ax, SUM_THICK, '#9bc53d', THICK)
draw(ax, TARGET_FLAT, '#ff00ff', 1.1)
draw(ax, WOOFER_A, '#ff1010', THIN)
draw(ax, WOOFER_B, '#ff1010', THIN)
draw(ax, MID, '#55e000', THIN)
draw(ax, TWEETER, '#1414e0', THIN)
draw(ax, TWEETER_HF, '#1414e0', 1.5)
style(ax, 45, 95, 5, 'SPL', 'dB', right=True, runit='deg')
a2.set_xlim(20, 20000)

# GD & phase
ax = new_ax(X2L, ROWS[0][0], X2R, ROWS[0][1])
draw(ax, GD_STEEL, '#4a86b8', THICK)
draw(ax, GD_TOTAL, '#5f5f5f', THICK)
style(ax, -3, 21, 3, 'GD & Phase', 'ms', right=True, runit='deg')
a2 = twin(ax, -180, 180, [180,135,90,45,0,-45,-90,-135,-180])
draw(a2, PH_RED_A, '#ff1515', THIN)
draw(a2, PH_RED_B, '#ff1515', THIN)
draw(a2, PH_GREEN, '#55e000', THIN)
draw(a2, PH_BLUE, '#1414e0', THIN)
a2.set_xlim(20, 20000); a2.set_ylim(-180, 180)

# Power & DI
ax = new_ax(X1L, ROWS[1][0], X1R, ROWS[1][1])
draw(ax, list(zip(F_POWER, POWER_CYAN)), '#00f0ff', THICK)
draw(ax, list(zip(F_POWER, POWER_ORANGE)), '#f58a1f', THICK)
draw(ax, list(zip(F_POWER, LISTENING)), '#0000e6', THICK)
draw(ax, TOTAL, '#666666', 1.4)
draw(ax, TARGET_SLOPE, '#ff2ef0', 1.0)
style(ax, 45, 95, 5, 'Power & DI (2pi)', 'dB', right=True, runit='dB')
a2 = twin(ax, -5, 45, [45,40,35,30,25,20,15,10,5,0,-5])
draw(a2, DI_LIGHT, '#ff8a80', THICK)
draw(a2, DI_MAIN, '#ff1010', 1.8)
a2.set_xlim(20, 20000); a2.set_ylim(-5, 45)

# Filter
ax = new_ax(X2L, ROWS[1][0], X2R, ROWS[1][1])
draw(ax, FILTER_LOW, '#ff1010', 1.3)
draw(ax, FILTER_MID, '#66e020', 1.0)
draw(ax, FILTER_HIGH, '#2020e0', 1.0)
style(ax, -30, 10, 5, 'Filter', 'dB')

# Directivity
SPECTRUM = LinearSegmentedColormap.from_list('spl', [(0,'#000000'),(10/70,'#ff00ff'),(20/70,'#0000ff'),(30/70,'#00ffff'),(40/70,'#00ff00'),(50/70,'#ffff00'),(60/70,'#ff0000'),(1,'#ffffff')], N=512)
Ztab = np.array(DIR_TABLE, dtype=float)
Zshow = np.vstack([Ztab, np.full((2, Ztab.shape[1]), DIR_FLOOR)])
Zline = np.vstack([Ztab, Ztab[-1], np.full((1, Ztab.shape[1]), np.nan)])
hf_cols = np.array(DIR_FREQS) >= 4200
Zline[:2, hf_cols] = np.maximum(Zline[:2, hf_cols], CONTOUR_FLOOR_HF)
ax = new_ax(X1L, ROWS[2][0], X1R, ROWS[2][1])
ax.set_xscale('log')
ax.pcolormesh(DIR_FREQS, DIR_ANGLES, Zshow, shading='gouraud', cmap=SPECTRUM, vmin=-60, vmax=10, zorder=0, rasterized=True)
style(ax, -90, 90, 30, 'Directivity (hor)', '', minor=None, right=True, runit='deg')
ax.grid(False, which='both')
ax.grid(True, which='major', axis='y', color='#8a8a8a', lw=GLW)
ax.grid(True, which='both', axis='x', color='#a08a80', lw=.6, alpha=.4)
ax.set_yticklabels([])
ax.set_axisbelow(False)
ax.contour(DIR_FREQS, DIR_ANGLES, Zline, levels=np.arange(-60, -2, 3), colors='#7f7f7f', linewidths=.7, linestyles='solid', zorder=3)
draw(ax, DIR_EDGE, '#7f7f7f', .8)
a2 = twin(ax, -90, 90, [90,60,30,0,-30,-60,-90])
a2.set_xlim(20, 20000)

cax = fig.add_axes([548/W, 1-1182/H, 24/W, 354/H], zorder=6)
sns.heatmap(np.linspace(10, -60.6, 300).reshape(-1,1), ax=cax, cmap=SPECTRUM, vmin=-60, vmax=10, cbar=False, xticklabels=False, yticklabels=False, rasterized=True)
for v in CBAR_LABELS:
    T(571, 876 - v*5, str(v), ha='right', a=top, size=FS)
T(571, 837, 'dB', ha='right', a=top, size=FS)

# Impedance
ax = new_ax(X2L, ROWS[2][0], X2R, ROWS[2][1])
draw(ax, IMP_MAG, '#5f5f5f', THICK)
style(ax, 0, 20, 5, 'Impedance', 'ohm', right=True, runit='deg')
a2 = twin(ax, -180, 180, [180,90,0,-90,-180])
draw(a2, IMP_PHASE, '#8c8c8c', THIN)
a2.set_xlim(20, 20000); a2.set_ylim(-180, 180)

fig.savefig('out.png', dpi=100, facecolor=fig.get_facecolor())
